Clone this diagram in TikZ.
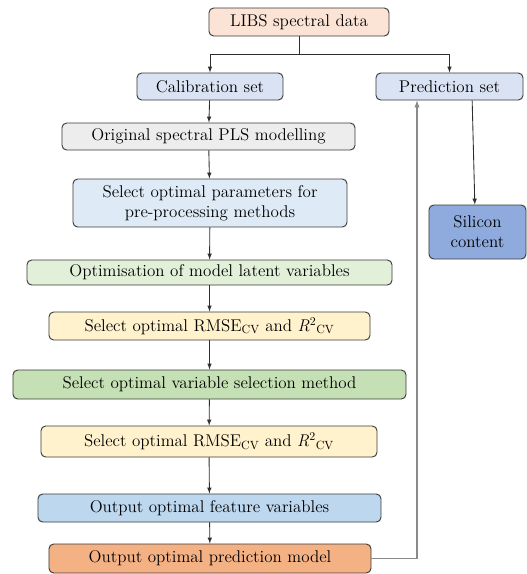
\documentclass[tikz,border=0pt]{standalone}
\usepackage{tikz}
\usetikzlibrary{arrows.meta, positioning, calc}

\definecolor{bordergray}{HTML}{3A3A3A}
\definecolor{linegray}{HTML}{2E2E2E}
\definecolor{fbgray}{HTML}{8A8A8A}
\definecolor{peach}{HTML}{FBE3D6}
\definecolor{setblue}{HTML}{DAE3F3}
\definecolor{pagegray}{HTML}{EDEDED}
\definecolor{paleblue}{HTML}{DEEBF7}
\definecolor{palegreen}{HTML}{E2F0D9}
\definecolor{paleyellow}{HTML}{FFF2CC}
\definecolor{midgreen}{HTML}{C5E0B4}
\definecolor{midblue}{HTML}{BDD7EE}
\definecolor{orange}{HTML}{F4B183}
\definecolor{deepblue}{HTML}{8FAADC}

\tikzset{
    box/.style={draw=bordergray, rounded corners=4pt, line width=0.8pt, inner sep=0pt,
        align=center, font=\fontsize{14.5}{17}\selectfont},
    arr/.style={-latex, draw=linegray, line width=0.75pt},
    fbk/.style={-latex, draw=fbgray, line width=1pt}
}

\begin{document}
\begin{tikzpicture}[x=0.03cm, y=-0.03cm]
    \useasboundingbox (0,0) rectangle (527,574);

    \node[box, fill=peach, minimum width=5.4cm, minimum height=0.84cm] (libs_data) at (299,22) {LIBS spectral data};
    \node[box, fill=setblue, minimum width=4.38cm, minimum height=0.81cm] (calib_set) at (210,86.5) {Calibration set};
    \node[box, fill=setblue, minimum width=4.41cm, minimum height=0.81cm] (pred_set) at (449.5,86.5) {Prediction set};
    \node[box, fill=pagegray, minimum width=8.79cm, minimum height=0.81cm] (orig_pls) at (208.5,136.5) {Original spectral PLS modelling};
    \node[box, fill=paleblue, minimum width=8.22cm, minimum height=1.44cm] (select_params) at (210,203) {Select optimal parameters for\\pre-processing methods};
    \node[box, fill=palegreen, minimum width=10.95cm, minimum height=0.75cm] (opt_latent) at (209.5,272.5) {Optimisation of model latent variables};
    \node[box, fill=paleyellow, minimum width=9.63cm, minimum height=0.84cm] (select_rmse_a) at (209.5,326) {Select optimal RMSE\textsubscript{CV} and \textit{R}\textsuperscript{2}\textsubscript{CV}};
    \node[box, fill=midgreen, minimum width=11.79cm, minimum height=0.87cm] (var_select) at (209.5,384.5) {Select optimal variable selection method};
    \node[box, fill=paleyellow, minimum width=10.08cm, minimum height=0.93cm] (select_rmse_b) at (209,441.5) {Select optimal RMSE\textsubscript{CV} and \textit{R}\textsuperscript{2}\textsubscript{CV}};
    \node[box, fill=midblue, minimum width=10.29cm, minimum height=0.84cm] (out_features) at (209.5,508) {Output optimal feature variables};
    \node[box, fill=orange, minimum width=9.66cm, minimum height=0.87cm] (out_model) at (210,558.5) {Output optimal prediction model};
    \node[box, fill=deepblue, minimum width=2.91cm, minimum height=1.62cm] (silicon) at (477.5,232) {Silicon\\content};

    \coordinate (split) at (299,54);
    \draw[arr] (libs_data.south) -- (split) -| (calib_set.north);
    \draw[arr] (split) -| (pred_set.north);

    \draw[arr] (calib_set) -- (orig_pls);
    \draw[arr] (orig_pls) -- (select_params);
    \draw[arr] (select_params) -- (opt_latent);
    \draw[arr] (opt_latent) -- (select_rmse_a);
    \draw[arr] (select_rmse_a) -- (var_select);
    \draw[arr] (var_select) -- (select_rmse_b);
    \draw[arr] (select_rmse_b) -- (out_features);
    \draw[arr] (out_features) -- (out_model);

    \draw[arr] ([xshift=0.68cm]pred_set.south) -- ([xshift=-0.08cm]silicon.north);
    \draw[fbk] (out_model.east) -| ([xshift=-0.975cm]pred_set.south);
\end{tikzpicture}
\end{document}
